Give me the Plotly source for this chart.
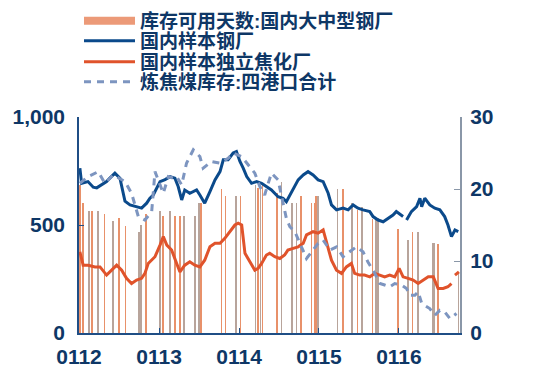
import plotly.graph_objects as go

# ---------------- data ----------------
steel_dates = ["2012-01-05","2012-01-13","2012-02-11","2012-03-06","2012-03-22","2012-05-06","2012-05-21",
    "2012-06-13","2012-07-06","2012-07-29","2012-08-21","2012-09-20","2012-10-13","2012-11-05","2012-11-20",
    "2012-12-05","2013-01-05","2013-01-28","2013-02-20","2013-03-14","2013-03-29","2013-04-14","2013-04-28",
    "2013-05-21","2013-06-21","2013-07-06","2013-07-28","2013-08-21","2013-09-13","2013-10-06","2013-10-21",
    "2013-11-12","2013-12-05","2013-12-20","2014-01-05","2014-01-20","2014-02-05","2014-02-27","2014-03-22",
    "2014-04-14","2014-05-06","2014-05-29","2014-06-28","2014-07-21","2014-08-05","2014-08-21","2014-09-13",
    "2014-09-28","2014-10-21","2014-11-12","2014-12-05","2014-12-28","2015-01-20","2015-02-12","2015-02-27",
    "2015-03-22","2015-04-21","2015-05-14","2015-06-06","2015-06-28","2015-07-21","2015-08-21","2015-09-05",
    "2015-09-28","2015-10-21","2015-11-12","2015-12-05","2015-12-20","2016-01-13","2016-01-20","2016-01-28",
    "2016-02-05","2016-02-27","2016-03-22","2016-04-06","2016-04-14","2016-04-28","2016-05-21","2016-06-13",
    "2016-07-06","2016-07-28","2016-08-12","2016-08-28","2016-09-13","2016-09-28"]
steel_values = [763,693,701,675,672,701,717,740,717,610,593,585,578,601,624,639,701,710,724,717,678,616,662,
    647,662,639,601,655,709,747,802,802,833,840,794,763,724,693,701,693,678,662,631,624,608,639,686,709,732,
    747,732,709,701,647,593,570,578,570,593,578,570,562,539,523,515,531,546,562,546,539,None,523,562,585,624,
    585,624,593,578,570,539,500,446,477,469]

coke_dates = ["2012-01-05","2012-01-20","2012-02-12","2012-03-14","2012-04-06","2012-05-06","2012-05-29",
    "2012-06-21","2012-07-14","2012-08-05","2012-08-28","2012-09-20","2012-10-13","2012-10-28","2012-11-12",
    "2012-12-13","2013-01-05","2013-01-20","2013-02-05","2013-02-27","2013-03-22","2013-04-06","2013-04-28",
    "2013-05-21","2013-06-13","2013-07-06","2013-07-28","2013-08-21","2013-09-13","2013-10-06","2013-10-28",
    "2013-11-20","2013-12-13","2013-12-28","2014-01-13","2014-01-28","2014-02-20","2014-03-14","2014-03-29",
    "2014-04-14","2014-05-06","2014-05-21","2014-06-13","2014-07-06","2014-07-28","2014-08-12","2014-09-05",
    "2014-09-28","2014-10-21","2014-11-05","2014-12-05","2014-12-28","2015-01-20","2015-02-05","2015-02-27",
    "2015-03-22","2015-04-14","2015-05-06","2015-05-29","2015-06-13","2015-07-06","2015-07-28","2015-08-21",
    "2015-09-13","2015-10-06","2015-10-28","2015-11-20","2015-12-13","2016-01-02","2016-01-20","2016-02-12",
    "2016-03-06","2016-03-29","2016-04-21","2016-05-14","2016-06-06","2016-06-28","2016-07-21","2016-08-12",
    "2016-08-28","2016-09-05","2016-09-13","2016-10-01"]
coke_values = [376,314,314,306,306,268,291,314,291,253,229,245,253,276,322,353,407,446,407,384,322,283,314,
    330,314,306,337,399,415,415,438,469,500,508,500,369,330,291,299,322,361,369,353,345,361,384,392,399,415,
    454,469,462,477,423,337,291,276,306,322,276,268,268,260,276,268,260,268,260,299,260,253,245,229,245,260,
    260,206,206,214,229,None,268,283]

port_dates = ["2012-01-05","2012-02-12","2012-03-29","2012-04-28","2012-06-06","2012-07-29","2012-08-28",
    "2012-09-28","2012-10-28","2012-11-28","2012-12-13","2013-01-20","2013-02-12","2013-03-06","2013-03-22",
    "2013-04-14","2013-05-06","2013-06-06","2013-07-06","2013-07-21","2013-08-28","2013-10-06","2013-11-12",
    "2013-12-05","2014-01-13","2014-02-05","2014-03-14","2014-04-06","2014-04-28","2014-05-14","2014-05-29",
    "2014-06-28","2014-07-21","2014-08-05","2014-08-21","2014-09-13","2014-10-06","2014-11-05","2014-12-05",
    "2014-12-28","2015-01-20","2015-02-20","2015-03-22","2015-04-21","2015-05-21","2015-06-21","2015-07-21",
    "2015-08-12","2015-09-13","2015-10-06","2015-10-28","2015-11-20","2015-12-13","2016-01-13","2016-02-05",
    "2016-02-20","2016-03-14","2016-03-29","2016-04-14","2016-05-06","2016-05-21","2016-06-13","2016-07-06",
    "2016-07-28","2016-08-21","2016-09-20"]
port_values = [693,724,747,693,732,701,647,539,523,562,747,647,724,717,724,686,786,848,817,763,794,786,809,
    833,817,786,740,678,639,693,740,709,601,531,492,469,415,345,384,415,430,384,399,353,376,399,376,330,276,
    229,222,214,229,222,206,175,175,191,137,121,113,82,105,98,67,90]

days_dates = ["2012-01-05","2012-01-19","2012-02-17","2012-03-02","2012-03-29","2012-04-26","2012-06-03",
    "2012-07-03","2012-07-31","2012-09-30","2012-10-10","2012-11-02","2013-01-05","2013-01-19","2013-02-20",
    "2013-03-14","2013-04-06","2013-04-25","2013-06-13","2013-07-03","2013-07-10","2013-10-13","2013-10-31",
    "2013-12-17","2014-01-08","2014-03-17","2014-03-29","2014-04-09","2014-04-18","2014-06-24","2014-07-14",
    "2014-08-31","2014-09-20","2014-10-10","2014-11-28","2014-12-13","2014-12-20","2014-12-28","2015-03-26",
    "2015-04-21","2015-06-01","2015-06-26","2015-07-17","2015-09-02","2015-09-17","2015-09-26","2015-12-28",
    "2016-02-12","2016-03-03","2016-03-28","2016-06-02","2016-06-09","2016-06-26","2016-09-29"]
days_values = [20.5,18.0,17.0,17.0,17.0,16.5,15.5,16.0,14.8,14.0,15.0,16.5,17.0,16.2,17.0,16.2,16.2,16.2,
    16.2,18.0,18.0,20.0,19.0,19.0,19.0,20.6,20.2,20.6,20.6,19.4,21.0,18.0,18.0,19.0,18.0,18.0,19.0,19.0,
    20.0,20.0,18.0,17.1,17.5,15.8,16.0,16.0,14.5,12.9,14.0,14.0,12.5,12.5,12.4,8.5]
days_shade = ["a","a","b","a","b","a","b","a","a","b","b","a","b","a","b","a","a","b","b","b","a","a","a",
    "b","a","b","a","b","a","a","b","b","b","a","a","a","a","b","b","a","b","a","b","a","b","b","a","b",
    "a","b","b","b","a","b"]

year_ticks = ["2012-01-01","2013-01-01","2014-01-01","2015-01-01","2016-01-01"]
year_labels = ["0112","0113","0114","0115","0116"]

names = ["库存可用天数:国内大中型钢厂", "国内样本钢厂", "国内样本独立焦化厂", "炼焦煤库存:四港口合计"]

# ---------------- styles ----------------
SALMON = "#E8916A"
TAUPE = "#B8A49B"
LEG_SALMON = "#EC9A78"
BLUE = "#0B4A8B"
RED = "#E0532B"
DASH = "#7D95C0"
NAVY = "#0E3766"
shade_map = {"a": SALMON, "b": TAUPE}

fig = go.Figure()

fig.add_trace(go.Bar(
    x=days_dates, y=days_values, name=names[0], showlegend=False,
    marker=dict(color=[shade_map[s] for s in days_shade], line=dict(width=0)),
    width=3.5 * 24 * 3600 * 1000, yaxis="y",
))
# legend swatch for the bar series (wide flat rectangle like the reference)
fig.add_trace(go.Scatter(
    x=[None], y=[None], name=names[0], mode="lines",
    line=dict(color=LEG_SALMON, width=8), yaxis="y", legend="legend",
))
fig.add_trace(go.Scatter(
    x=steel_dates, y=steel_values, name=names[1], mode="lines",
    line=dict(color=BLUE, width=3), yaxis="y2", legend="legend2", connectgaps=False,
))
fig.add_trace(go.Scatter(
    x=coke_dates, y=coke_values, name=names[2], mode="lines",
    line=dict(color=RED, width=3), yaxis="y2", legend="legend3", connectgaps=False,
))
fig.add_trace(go.Scatter(
    x=port_dates, y=port_values, name=names[3], mode="lines",
    line=dict(color=DASH, width=3, dash="7px,6px"), yaxis="y2", legend="legend4",
))

legend_font = dict(family="Liberation Sans, Noto Sans CJK SC", size=19, color=NAVY, weight="bold")
def leg(y):
    return dict(x=0.0, y=y, xanchor="left", yanchor="middle", font=legend_font,
                bgcolor="rgba(0,0,0,0)", borderwidth=0, itemwidth=51)

tick_font = dict(family="Liberation Sans", size=21, color=NAVY, weight="bold")

fig.update_layout(
    width=543, height=375,
    margin=dict(l=79, r=83, t=117, b=42, autoexpand=False),
    paper_bgcolor="white", plot_bgcolor="white",
    showlegend=True,
    legend=leg(1.445), legend2=leg(1.352), legend3=leg(1.255), legend4=leg(1.162),
    bargap=0,
    xaxis=dict(
        type="date", range=["2012-01-01", "2016-10-06"],
        tickvals=year_ticks, ticktext=year_labels,
        showgrid=False, zeroline=False,
        showline=True, linecolor="#1F4E85", linewidth=1.5,
        ticks="inside", ticklen=5, tickcolor="#1F4E85",
        tickfont=tick_font, ticklabelstandoff=4,
    ),
    yaxis=dict(
        side="right", range=[0, 30], tickvals=[0, 10, 20, 30],
        showgrid=False, zeroline=False,
        showline=True, linecolor="#8A97A8", linewidth=2,
        ticks="inside", ticklen=6, tickcolor="#8A97A8",
        tickfont=tick_font, ticklabelstandoff=4,
    ),
    yaxis2=dict(
        side="left", overlaying="y", range=[0, 1000], tickvals=[0, 500, 1000],
        tickformat=",d",
        showgrid=False, zeroline=False,
        showline=True, linecolor="#1F4E85", linewidth=1.5,
        ticks="inside", ticklen=5, tickcolor="#1F4E85",
        tickfont=tick_font, ticklabelstandoff=8,
    ),
)

fig.write_html("out.html")
